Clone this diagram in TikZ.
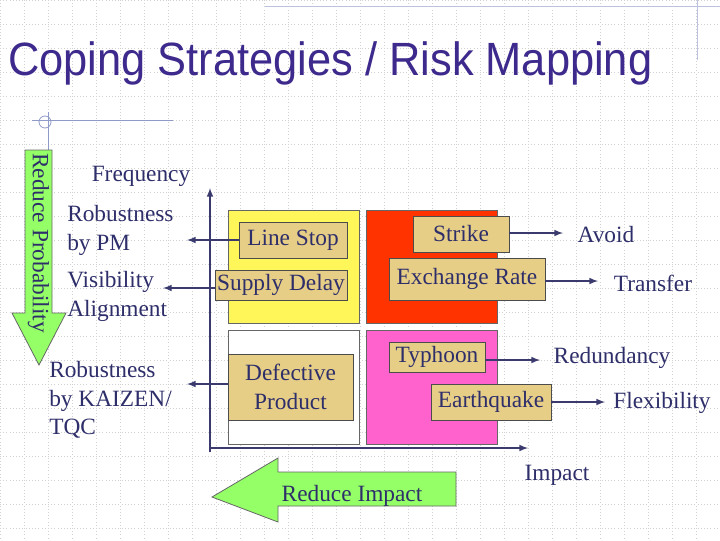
\documentclass[tikz,border=0pt]{standalone}
\usepackage{fontspec}
\setmainfont{Liberation Serif}
\newfontfamily\titlefont{Liberation Sans}
\begin{document}
\begin{tikzpicture}[x=0.75pt,y=-0.75pt,
  txt/.style={text=tc,font=\fontsize{17.5}{21.5}\selectfont,inner sep=0pt},
  risk/.style={draw=black!70,fill=tan,txt,inner sep=0pt,line width=0.6pt},
  arr/.style={draw=ac,line width=1.2pt,-latex},
  quad/.style={draw=black!60,line width=0.6pt}]
\definecolor{tc}{HTML}{2E2E6A}
\definecolor{ac}{HTML}{3A3A6E}
\definecolor{tan}{HTML}{E6CE86}
\definecolor{ttl}{HTML}{3D2A8C}
\definecolor{deco}{HTML}{8E9BC8}
\useasboundingbox (0,0) rectangle (720,540);
\fill[white] (0,0) rectangle (720,540);
\foreach \i in {0,24,...,720} \draw[black!18,dotted,line width=0.4pt] (\i,0) -- (\i,540);
\foreach \j in {0,24,...,540} \draw[black!18,dotted,line width=0.4pt] (0,\j) -- (720,\j);
% decorations
\draw[deco!60,line width=0.6pt] (265,6) -- (720,6);
\draw[deco!60,line width=0.6pt] (697,0) -- (697,60);
\draw[deco,line width=0.6pt] (32,120) -- (173,120);
\draw[deco,line width=0.6pt] (48,112) -- (48,150);
\draw[deco,line width=0.6pt] (45,122) circle (6);
\node[text=ttl,font=\titlefont\fontsize{35}{40}\selectfont,anchor=west,xscale=0.93,inner sep=0pt] (title) at (8,63) {Coping Strategies / Risk Mapping};
% green arrow
\draw[fill=green!70!yellow!60,draw=black!60,line width=0.6pt] (25,150) -- (52,150) -- (52,313) -- (66,313) -- (39,365) -- (12,313) -- (25,313) -- cycle;
\node[txt,rotate=-90] (rp) at (38.5,243) {Reduce Probability};
% quadrants
\draw[quad,fill=yellow!65] (228,210) rectangle (359,323);
\draw[quad,fill={rgb,255:red,255;green,51;blue,0}] (366,210) rectangle (497,323);
\draw[quad,fill=white] (228,330) rectangle (359,444);
\draw[quad,fill={rgb,255:red,255;green,98;blue,204}] (366,330) rectangle (497,444);
% axes
\coordinate (o) at (210,448);
\coordinate (ytop) at (210,188);
\coordinate (xend) at (528,448);
\draw[arr] (210,452) -- (ytop);
\draw[arr] (o) -- (xend);
% risk boxes
\node[risk,minimum width=81pt,minimum height=27pt] (ls) at (293,240) {Line Stop};
\node[risk,minimum width=99pt,minimum height=22.5pt] (sd) at (281,285) {Supply Delay};
\node[risk,minimum width=93.75pt,minimum height=49.5pt,align=center] (dp) at (290.5,387) {Defective\\Product};
\node[risk,minimum width=72pt,minimum height=27pt] (st) at (461,234) {Strike};
\node[risk,minimum width=117pt,minimum height=31.5pt] (er) at (467,279) {Exchange Rate};
\node[risk,minimum width=72pt,minimum height=22.5pt] (ty) at (437,357) {Typhoon};
\node[risk,minimum width=90pt,minimum height=27pt] (eq) at (491,402) {Earthquake};
% labels
\node[txt] (freq) at (141,176) {Frequency};
\node[txt,align=left,anchor=north west] (rpm) at (67,205) {Robustness\\ by PM};
\node[txt,align=left,anchor=north west] (vis) at (67,271) {Visibility\\Alignment};
\node[txt,align=left,anchor=north west] (rk) at (49,361) {Robustness\\ by KAIZEN/\\TQC};
\node[txt] (avoid) at (606,235) {Avoid};
\node[txt] (transfer) at (653,283) {Transfer};
\node[txt] (red) at (612,358) {Redundancy};
\node[txt] (flex) at (662,403) {Flexibility};
\node[txt] (impact) at (557,475) {Impact};
\coordinate (a1) at (187,240);
\coordinate (a2) at (163,288);
\coordinate (a3) at (187,384);
\coordinate (b1) at (563,233);
\coordinate (b2) at (598,281);
\coordinate (b3) at (540,360);
\coordinate (b4) at (605,402);
\draw[arr] (ls.west|-a1) -- (a1);
\draw[arr] (sd.west|-a2) -- (a2);
\draw[arr] (dp.west|-a3) -- (a3);
\draw[arr] (st.east|-b1) -- (b1);
\draw[arr] (er.east|-b2) -- (b2);
\draw[arr] (ty.east|-b3) -- (b3);
\draw[arr] (eq.east|-b4) -- (b4);
% reduce impact arrow
\draw[fill=green!70!yellow!60,draw=black!60,line width=0.6pt] (456,472) -- (278,472) -- (278,458) -- (212,497) -- (278,522) -- (278,506) -- (456,506) -- cycle;
\node[txt] (ri) at (352,496) {Reduce Impact};
\end{tikzpicture}
\end{document}
